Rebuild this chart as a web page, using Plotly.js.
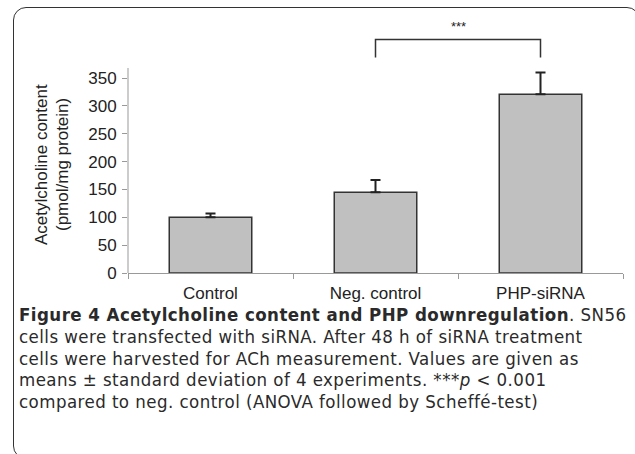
<!DOCTYPE html>
<html>
<head>
<meta charset="utf-8">
<script src="https://cdn.plot.ly/plotly-3.0.1.min.js"></script>
<style>
  html, body { margin: 0; padding: 0; background: #fff; }
  #wrap { position: relative; width: 635px; height: 454px; overflow: hidden; }
  #frame { position: absolute; left: 13px; top: 7px; width: 627px; height: 452px;
           border: 1.5px solid #333; border-radius: 13px; box-sizing: border-box; }
  #chart { position: absolute; left: 0; top: 0; width: 635px; height: 454px; }
  #caption { position: absolute; left: 19px; top: 304px; white-space: nowrap;
             font-family: 'DejaVu Sans Condensed', 'DejaVu Sans', sans-serif;
             font-stretch: semi-condensed; letter-spacing: 0.45px;
             font-size: 18.5px; line-height: 21.8px; color: #2a2a2a; }
  #caption b { font-weight: 700; }
</style>
</head>
<body>
<div id="wrap">
  <div id="frame"></div>
  <div id="chart"></div>
  <div id="caption"></div>
</div>
<script>
const categories = ['Control', 'Neg. control', 'PHP-siRNA'];
const meanValues = [100, 145, 321];
const sdValues = [7, 22, 39];
const yTickValues = [0, 50, 100, 150, 200, 250, 300, 350];
const yAxisTop = 368;
const bracketCategories = ['Neg. control', 'Neg. control', 'PHP-siRNA', 'PHP-siRNA'];
const bracketLevels = [387, 419, 419, 387];
const starLevel = 443;
const yTitleLines = ['Acetylcholine content', '(pmol/mg protein)'];
const captionLines = [
  '<b>Figure 4 Acetylcholine content and PHP downregulation</b>. SN56',
  'cells were transfected with siRNA. After 48 h of siRNA treatment',
  'cells were harvested for ACh measurement. Values are given as',
  'means \u00b1 standard deviation of 4 experiments. ***<i>p</i> &lt; 0.001',
  'compared to neg. control (ANOVA followed by Scheff\u00e9-test)'
];

document.getElementById('caption').innerHTML = captionLines.join('<br>');

const W = 635, H = 454;
const mt = 17, mb = 181, ml = 128, mr = 12;
const plotH = H - mt - mb;
const rangeMax = 459.5;
function paperY(py) { return (H - mb - py) / plotH; }
function paperX(px) { return (px - ml) / (W - ml - mr); }

const axisFont = { family: 'Liberation Sans, Arial, sans-serif', size: 17, color: '#222' };

const traces = [
  {
    type: 'bar',
    x: categories,
    y: meanValues,
    width: 0.5,
    marker: { color: '#c0c0c0', line: { color: '#333', width: 1.5 } },
    error_y: { type: 'data', array: sdValues, arrayminus: sdValues.map(() => 0),
               symmetric: false, color: '#222', thickness: 2, width: 5 },
    hoverinfo: 'skip'
  },
  {
    type: 'scatter',
    mode: 'lines',
    x: bracketCategories,
    y: bracketLevels,
    line: { color: '#333', width: 1.5 },
    hoverinfo: 'skip'
  }
];

const annotations = [
  { x: 1.5, y: starLevel, xref: 'x', yref: 'y', text: '***', showarrow: false,
    font: { family: 'Liberation Sans, Arial, sans-serif', size: 13, color: '#222' } },
  { x: paperX(41), y: paperY(165), xref: 'paper', yref: 'paper', text: yTitleLines[0],
    textangle: -90, showarrow: false, font: axisFont, xanchor: 'center', yanchor: 'middle' },
  { x: paperX(62), y: paperY(165), xref: 'paper', yref: 'paper', text: yTitleLines[1],
    textangle: -90, showarrow: false, font: axisFont, xanchor: 'center', yanchor: 'middle' }
];

const layout = {
  width: W, height: H,
  margin: { l: ml, r: mr, t: mt, b: mb },
  paper_bgcolor: 'rgba(0,0,0,0)',
  plot_bgcolor: 'rgba(0,0,0,0)',
  showlegend: false,
  bargap: 0.5,
  xaxis: {
    type: 'category',
    showline: true, linecolor: '#999', linewidth: 1,
    ticks: 'outside', tickson: 'boundaries', ticklen: 5, tickcolor: '#999',
    ticklabelstandoff: 5,
    tickfont: axisFont, showgrid: false, zeroline: false, fixedrange: true
  },
  yaxis: {
    range: [0, rangeMax],
    tickvals: yTickValues,
    ticks: 'outside', ticklen: 5, tickcolor: '#999',
    ticklabelstandoff: 2,
    tickfont: axisFont, showgrid: false, zeroline: false, showline: false, fixedrange: true
  },
  shapes: [
    { type: 'line', xref: 'paper', yref: 'y', x0: 0, x1: 0, y0: 0, y1: yAxisTop,
      line: { color: '#999', width: 1 } }
  ],
  annotations: annotations
};

Plotly.newPlot('chart', traces, layout, { displayModeBar: false, staticPlot: true });
</script>
</body>
</html>
